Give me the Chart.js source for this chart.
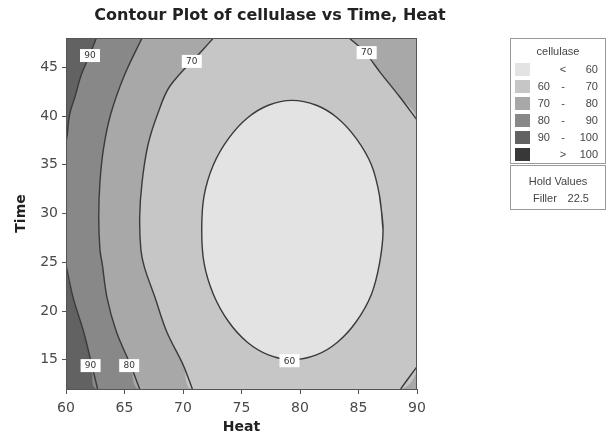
<!DOCTYPE html>
<html>
<head>
<meta charset="utf-8">
<script src="https://cdn.jsdelivr.net/npm/chart.js@4.4.1/dist/chart.umd.min.js"></script>
<style>
  body { margin: 0; background: #fff; }
  #wrap { position: relative; width: 612px; height: 438px; font-family: "Liberation Sans", Arial, sans-serif; color: #444; }
  #grafico { position: absolute; left: 0; top: 0; }
  .caixa { position: absolute; border: 1px solid #999; background: #fff; box-sizing: border-box; filter: grayscale(100%); }
  .caixa div { position: absolute; font-size: 11px; line-height: 13px; white-space: nowrap; }
</style>
</head>
<body>
<div id="wrap">
  <canvas id="grafico" width="612" height="438"></canvas>
  <div class="caixa" id="legenda" style="left:510px; top:38px; width:96px; height:126px;"></div>
  <div class="caixa" id="hold" style="left:510px; top:165px; width:96px; height:45px;"></div>
</div>
<script>
// --- Dados do gráfico ---
const titulo = 'Contour Plot of cellulase vs Time, Heat';
const heatRange = [60, 90];
const timeRange = [12, 48];
const heatTicks = [60, 65, 70, 75, 80, 85, 90];
const timeTicks = [15, 20, 25, 30, 35, 40, 45];

// Níveis da legenda (cellulase)
const levelLow = [null, 60, 70, 80, 90, null];
const levelHigh = [60, 70, 80, 90, 100, 100];
const levelSymbol = ['<', '-', '-', '-', '-', '>'];
const levelColors = ['#e3e3e3', '#c6c6c6', '#a8a8a8', '#888888', '#626262', '#383838'];

// Valor fixo
const holdName = 'Filler';
const holdValue = 22.5;

// Curvas de contorno: [Heat, Time]
const c90Upper = [[62.6, 48], [62.0, 46.2], [61.3, 44.2], [60.8, 42.1], [60.3, 40.1], [60.1, 38.0], [60, 37.4]];
const c90Lower = [[60, 24.7], [60.6, 21.4], [61.5, 17.9], [62.2, 14.5], [62.7, 12]];
const c80 = [[66.5, 48], [65.0, 44.2], [63.8, 40.1], [63.2, 36.6], [62.9, 33.2], [62.8, 29.7], [62.9, 26.3],
             [63.1, 24.8], [63.5, 21.4], [64.3, 17.9], [65.5, 14.5], [66.3, 12]];
const c70Left = [[72.6, 48], [71.7, 46.8], [68.9, 43.1], [67.8, 40.1], [67.0, 37.0], [66.5, 33.2], [66.3, 29.7],
                 [66.4, 26.3], [66.7, 24.5], [67.6, 21.4], [68.6, 17.9], [70.0, 14.5], [70.8, 12]];
const c70Right = [[84.2, 48], [85.5, 46.6], [86.9, 44.4], [88.5, 42.0], [90, 39.6]];
const c70Corner = [[88.6, 12], [90, 14.3]];
const c60 = [[87.1, 28.3], [86.8, 31.8], [86.1, 35.0], [84.8, 37.7], [83.2, 39.8], [81.4, 41.1], [79.3, 41.6],
             [77.3, 41.1], [75.5, 39.8], [73.9, 37.7], [72.6, 35.0], [71.8, 31.8], [71.6, 28.3], [71.8, 24.9],
             [72.6, 21.7], [73.9, 18.9], [75.5, 16.8], [77.3, 15.5], [79.3, 15.0], [81.4, 15.5], [83.2, 16.8],
             [84.8, 18.9], [86.1, 21.7], [86.8, 24.9]];

// Rótulos das curvas: [Heat, Time, texto]
const contourLabels = [[62.05, 46.2, '90'], [70.75, 45.6, '70'], [85.7, 46.5, '70'],
                       [62.1, 14.4, '90'], [65.4, 14.4, '80'], [79.1, 14.9, '60']];

// --- Funções auxiliares ---
const pts = arr => arr.map(p => ({ x: p[0], y: p[1] }));
const [hMin, hMax] = heatRange;
const [tMin, tMax] = timeRange;

// Área preenchida de um nível
function regiao(arr, cor, ordem) {
    return {
        data: pts(arr), showLine: true, fill: 'shape', backgroundColor: cor,
        borderWidth: 0, borderColor: 'transparent', pointRadius: 0, tension: 0.35, order: ordem
    };
}

// Linha de contorno
function linha(arr) {
    return {
        data: pts(arr), showLine: true, fill: false, borderColor: '#3a3a3a',
        borderWidth: 1.4, pointRadius: 0, tension: 0.35, order: 1
    };
}

const datasets = [
    regiao([[hMin, tMin], [hMin, tMax], [hMax, tMax], [hMax, tMin]], levelColors[4], 10),
    regiao([...c90Upper, ...c90Lower, [hMax, tMin], [hMax, tMax]], levelColors[3], 9),
    regiao([...c80, [hMax, tMin], [hMax, tMax]], levelColors[2], 8),
    regiao([...c70Left, ...c70Corner, ...c70Right.slice().reverse()], levelColors[1], 7),
    regiao(c60, levelColors[0], 6),
    linha(c90Upper), linha(c90Lower), linha(c80), linha(c70Left), linha(c70Right), linha(c70Corner),
    linha([...c60, c60[0], c60[1]])
];

// Título, moldura e rótulos das curvas
const extras = {
    id: 'extras',
    afterDatasetsDraw(chart) {
        const { ctx, chartArea: a, scales: { x, y } } = chart;
        ctx.save();
        ctx.strokeStyle = '#555';
        ctx.lineWidth = 1;
        ctx.strokeRect(a.left + 0.5, a.top + 0.5, a.right - a.left - 1, a.bottom - a.top);
        ctx.font = '9px "DejaVu Sans"';
        ctx.textAlign = 'center';
        ctx.textBaseline = 'middle';
        contourLabels.forEach(([h, t, txt]) => {
            const px = x.getPixelForValue(h), py = y.getPixelForValue(t);
            ctx.fillStyle = '#fff';
            ctx.fillRect(px - 10, py - 6.5, 20, 13);
            ctx.fillStyle = '#333';
            ctx.fillText(txt, px, py + 0.5);
        });
        ctx.restore();
    },
    afterDraw(chart) {
        const ctx = chart.ctx;
        ctx.save();
        ctx.font = 'bold 16px "DejaVu Sans"';
        ctx.fillStyle = '#222';
        ctx.textAlign = 'center';
        ctx.textBaseline = 'middle';
        ctx.fillText(titulo, 270, 16);
        ctx.restore();
    }
};

const fonteTicks = { family: 'DejaVu Sans', size: 14 };
const fonteTitulo = { family: 'DejaVu Sans', size: 14, weight: 'bold' };

new Chart(document.getElementById('grafico').getContext('2d'), {
    type: 'scatter',
    data: { datasets },
    options: {
        responsive: false,
        animation: false,
        layout: { padding: { top: 38, right: 195, left: 0, bottom: 0 } },
        plugins: { legend: { display: false }, tooltip: { enabled: false } },
        scales: {
            x: {
                type: 'linear', min: hMin, max: hMax,
                afterBuildTicks: s => { s.ticks = heatTicks.map(v => ({ value: v })); },
                afterFit: s => { s.height = 49; },
                grid: { drawOnChartArea: false, drawTicks: true, tickLength: 5, color: '#555' },
                border: { display: false },
                ticks: { color: '#4a4a4a', font: fonteTicks, padding: 6, maxRotation: 0 },
                title: { display: true, text: 'Heat', color: '#222', font: fonteTitulo, padding: { top: 0, bottom: 2 } }
            },
            y: {
                type: 'linear', min: tMin, max: tMax,
                afterBuildTicks: s => { s.ticks = timeTicks.map(v => ({ value: v })); },
                afterFit: s => { s.width = 66; },
                grid: { drawOnChartArea: false, drawTicks: true, tickLength: 4, color: '#555' },
                border: { display: false },
                ticks: { color: '#4a4a4a', font: fonteTicks, padding: 4 },
                title: { display: true, text: 'Time', color: '#222', font: fonteTitulo, padding: { top: 13, bottom: 0 } }
            }
        }
    },
    plugins: [extras]
});

// --- Legenda em HTML ---
const legenda = document.getElementById('legenda');
function addTexto(caixa, txt, estilo) {
    const d = document.createElement('div');
    d.textContent = txt;
    d.style.cssText = estilo;
    caixa.appendChild(d);
}
addTexto(legenda, 'cellulase', 'left:0; width:94px; text-align:center; top:6px;');
levelColors.forEach((cor, i) => {
    const topo = 24 + i * 17;
    const sw = document.createElement('div');
    sw.style.cssText = `left:4px; top:${topo}px; width:15px; height:13px; background:${cor};`;
    legenda.appendChild(sw);
    if (levelLow[i] !== null) addTexto(legenda, String(levelLow[i]), `left:20px; width:19px; text-align:right; top:${topo}px;`);
    addTexto(legenda, levelSymbol[i], `left:46px; width:12px; text-align:center; top:${topo}px;`);
    addTexto(legenda, String(levelHigh[i]), `left:60px; width:27px; text-align:right; top:${topo}px;`);
});
const hold = document.getElementById('hold');
addTexto(hold, 'Hold Values', 'left:0; width:94px; text-align:center; top:9px;');
addTexto(hold, holdName, 'left:22px; top:26px;');
addTexto(hold, String(holdValue), 'left:56px; width:22px; text-align:right; top:26px;');
</script>
</body>
</html>
